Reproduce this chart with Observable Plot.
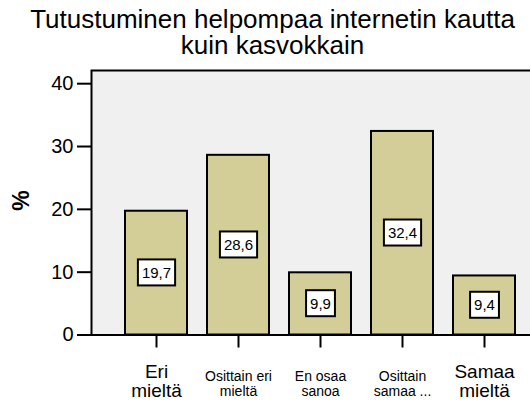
<!DOCTYPE html>
<html>
<head>
<meta charset="utf-8">
<script src="https://cdn.jsdelivr.net/npm/d3@7"></script>
<script src="https://cdn.jsdelivr.net/npm/@observablehq/plot@0.6"></script>
<style>
  html, body { margin: 0; padding: 0; background: #ffffff; }
  svg { display: block; }
</style>
</head>
<body>
<div id="chart"></div>
<script>
const categories = ["Eri mieltä", "Osittain eri mieltä", "En osaa sanoa", "Osittain samaa mieltä", "Samaa mieltä"];
const values = [19.7, 28.6, 9.9, 32.4, 9.4];
const valueLabels = ["19,7", "28,6", "9,9", "32,4", "9,4"];
const tickLabels = ["Eri\nmieltä", "Osittain eri\nmieltä", "En osaa\nsanoa", "Osittain\nsamaa ...", "Samaa\nmieltä"];
const yTicks = [0, 10, 20, 30, 40];
const title = "Tutustuminen helpompaa internetin kautta\nkuin kasvokkain";
const yLabel = "%";

const data = categories.map((c, i) => ({cat: c, value: values[i], label: valueLabels[i], tick: tickLabels[i]}));
const bigIdx = new Set([0, 4]);
const bigData = data.filter((d, i) => bigIdx.has(i));
const smallData = data.filter((d, i) => !bigIdx.has(i));

const chart = Plot.plot({
  width: 530,
  height: 404,
  marginTop: 70,
  marginBottom: 69.5,
  marginLeft: 91,
  marginRight: -3,
  style: {fontFamily: "'Liberation Sans', Arial, sans-serif", background: "#ffffff", color: "black"},
  x: {domain: categories, range: [102.6, 537], paddingInner: 0.25, paddingOuter: 0.25},
  y: {domain: [0, 42.1]},
  marks: [
    Plot.frame({fill: "#f0f0f0", stroke: null}),
    Plot.barY(data, {x: "cat", y: "value", fill: "#d3ce98", stroke: "black", strokeWidth: 2}),
    Plot.text(data, {x: "cat", y: d => d.value / 2, text: "label", fontSize: 15, fill: "black", className: "vlabel"}),
    Plot.frame({stroke: "black", strokeWidth: 2}),
    Plot.axisY({ticks: yTicks, tickSize: 14, tickPadding: 4, fontSize: 20, strokeWidth: 2, label: null}),
    Plot.axisX({tickSize: 13, strokeWidth: 2, tickFormat: () => "", label: null}),
    Plot.text(bigData, {x: "cat", text: "tick", frameAnchor: "bottom", lineAnchor: "top", dy: 29.5, fontSize: 19, lineHeight: 1.0, fill: "black"}),
    Plot.text(smallData, {x: "cat", text: "tick", frameAnchor: "bottom", lineAnchor: "top", dy: 35, fontSize: 14, lineHeight: 1.1, fill: "black"}),
    Plot.text([title], {frameAnchor: "top-left", dx: 181, dy: -61, lineAnchor: "top", textAnchor: "middle", fontSize: 26, lineHeight: 1.0, fill: "black"}),
    Plot.text([yLabel], {frameAnchor: "left", dx: -70, dy: 8, rotate: -90, fontSize: 23, fontWeight: "bold", fill: "black"})
  ]
});

document.getElementById("chart").append(chart);

// white boxes behind the value labels
d3.select(chart).selectAll("g.vlabel text").each(function() {
  const b = this.getBBox();
  const r = document.createElementNS("http://www.w3.org/2000/svg", "rect");
  r.setAttribute("x", b.x - 4);
  r.setAttribute("y", b.y - 4.5);
  r.setAttribute("width", b.width + 8);
  r.setAttribute("height", b.height + 9);
  r.setAttribute("fill", "white");
  r.setAttribute("stroke", "black");
  r.setAttribute("stroke-width", 2);
  const t = this.getAttribute("transform");
  if (t) r.setAttribute("transform", t);
  this.parentNode.insertBefore(r, this);
});
</script>
</body>
</html>
